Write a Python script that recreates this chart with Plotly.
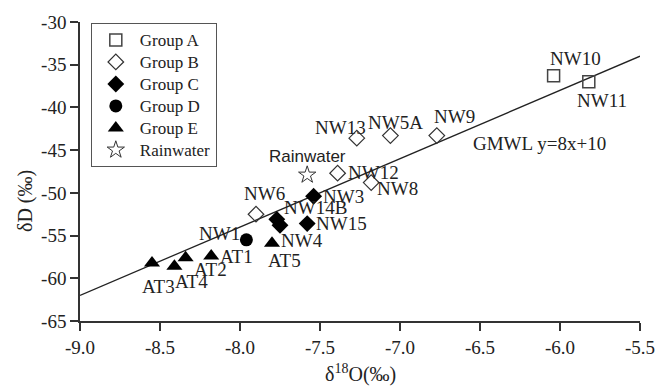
import plotly.graph_objects as go

# ---- data ----
groupA_names = ["NW10", "NW11"]
groupA_x = [-6.04, -5.82]
groupA_y = [-36.3, -37.0]

groupB_names = ["NW13", "NW5A", "NW9", "NW12", "NW8", "NW6"]
groupB_x = [-7.27, -7.06, -6.77, -7.39, -7.18, -7.90]
groupB_y = [-43.6, -43.3, -43.3, -47.7, -48.8, -52.5]

groupC_names = ["NW3", "NW14B", "NW4", "NW15"]
groupC_x = [-7.54, -7.77, -7.75, -7.58]
groupC_y = [-50.4, -53.1, -53.8, -53.6]

groupD_names = ["NW1"]
groupD_x = [-7.96]
groupD_y = [-55.5]

groupE_names = ["AT5", "AT1", "AT2", "AT4", "AT3"]
groupE_x = [-7.80, -8.18, -8.34, -8.41, -8.55]
groupE_y = [-55.9, -57.4, -57.6, -58.6, -58.2]

rain_names = ["Rainwater"]
rain_x = [-7.58]
rain_y = [-47.9]

gmwl_x = [-9.0, -5.5]
gmwl_y = [-62.0, -34.0]

# label positions (data coords)
label_text = ["NW10", "NW11", "NW13", "NW5A", "NW9", "NW12", "NW8", "NW3", "NW14B",
              "NW15", "NW6", "NW1", "NW4", "AT5", "AT1", "AT2", "AT4", "AT3"]
label_x = [-5.904, -5.738, -7.375, -7.028, -6.66, -7.167, -7.013, -7.351, -7.529,
           -7.363, -7.847, -8.131, -7.61, -7.725, -8.019, -8.185, -8.301, -8.509]
label_y = [-34.3, -39.19, -42.33, -41.71, -41.05, -47.67, -49.53, -50.47, -51.74,
           -53.57, -50.12, -54.8, -55.58, -57.91, -57.44, -58.95, -60.35, -61.01]

x_ticks = [-9.0, -8.5, -8.0, -7.5, -7.0, -6.5, -6.0, -5.5]
x_ticktext = ["-9.0", "-8.5", "-8.0", "-7.5", "-7.0", "-6.5", "-6.0", "-5.5"]
y_ticks = [-65, -60, -55, -50, -45, -40, -35, -30]
y_ticktext = ["-65", "-60", "-55", "-50", "-45", "-40", "-35", "-30"]

SERIF = "Liberation Serif, Times New Roman, serif"
SANS = "Liberation Sans, Arial, sans-serif"


def lg(name):
    return '<span style="font-size:17px">' + name + '</span>'


fig = go.Figure()

fig.add_trace(go.Scatter(x=gmwl_x, y=gmwl_y, mode="lines",
                         line=dict(color="#222222", width=1.3), showlegend=False,
                         hoverinfo="skip"))

fig.add_trace(go.Scatter(x=groupA_x, y=groupA_y, mode="markers", name=lg("Group A"),
                         text=groupA_names,
                         marker=dict(symbol="square-open", size=12, color="#444444",
                                     line=dict(width=1.5, color="#444444"))))
fig.add_trace(go.Scatter(x=groupB_x, y=groupB_y, mode="markers", name=lg("Group B"),
                         text=groupB_names,
                         marker=dict(symbol="diamond-open", size=12, color="#333333",
                                     line=dict(width=1.2, color="#333333"))))
fig.add_trace(go.Scatter(x=groupC_x, y=groupC_y, mode="markers", name=lg("Group C"),
                         text=groupC_names,
                         marker=dict(symbol="diamond", size=13, color="black")))
fig.add_trace(go.Scatter(x=groupD_x, y=groupD_y, mode="markers", name=lg("Group D"),
                         text=groupD_names,
                         marker=dict(symbol="circle", size=13, color="black")))
fig.add_trace(go.Scatter(x=groupE_x, y=groupE_y, mode="markers", name=lg("Group E"),
                         text=groupE_names,
                         marker=dict(symbol="triangle-up", size=14, color="black")))
fig.add_trace(go.Scatter(x=rain_x, y=rain_y, mode="markers", name=lg("Rainwater"),
                         text=rain_names,
                         marker=dict(symbol="star-open", size=13, color="#333333",
                                     line=dict(width=1, color="#333333"))))

annotations = []
for t, lx, ly in zip(label_text, label_x, label_y):
    annotations.append(dict(x=lx, y=ly, xref="x", yref="y", text=t, showarrow=False,
                            xanchor="center", yanchor="middle",
                            font=dict(family=SERIF, size=19, color="#222222")))
annotations.append(dict(x=rain_x[0], y=-45.7, xref="x", yref="y", text="Rainwater",
                        showarrow=False, xanchor="center", yanchor="middle",
                        font=dict(family=SANS, size=17, color="#222222")))
annotations.append(dict(x=-6.554, y=-44.19, xref="x", yref="y", text="GMWL y=8x+10",
                        showarrow=False, xanchor="left", yanchor="middle",
                        font=dict(family=SERIF, size=19, color="#222222")))
annotations.append(dict(x=-0.096, y=0.402, xref="paper", yref="paper", text="δD (‰)",
                        showarrow=False, textangle=-90, xanchor="center", yanchor="middle",
                        font=dict(family=SERIF, size=20, color="#222222")))
annotations.append(dict(x=0.5, y=-0.2226, xref="paper", yref="paper",
                        text="δ<sup>18</sup>O(‰)",
                        showarrow=False, xanchor="center", yanchor="bottom",
                        font=dict(family=SERIF, size=20, color="#222222")))

axis_common = dict(showgrid=False, zeroline=False, showline=True, linecolor="#333333",
                   linewidth=1.5, ticks="outside", ticklen=8, tickwidth=1.5,
                   tickcolor="#333333", mirror=False,
                   tickfont=dict(family=SERIF, size=19, color="#222222"))

fig.update_layout(
    width=667, height=388,
    margin=dict(l=80, r=16, t=20, b=67),
    paper_bgcolor="white", plot_bgcolor="white",
    xaxis=dict(range=[-9.0, -5.5], tickvals=x_ticks, ticktext=x_ticktext, **axis_common),
    yaxis=dict(range=[-65, -30], tickvals=y_ticks, ticktext=y_ticktext, **axis_common),
    legend=dict(x=0.0193, y=0.9967, xanchor="left", yanchor="top",
                bordercolor="#555555", borderwidth=1, bgcolor="white",
                font=dict(family=SERIF, size=14.6, color="#222222"),
                itemwidth=38, tracegroupgap=0),
    annotations=annotations,
    showlegend=True,
)

fig.write_html("out.html",
               config={"displayModeBar": False},
               post_script="document.body.style.margin='0';document.body.style.overflow='hidden';")
